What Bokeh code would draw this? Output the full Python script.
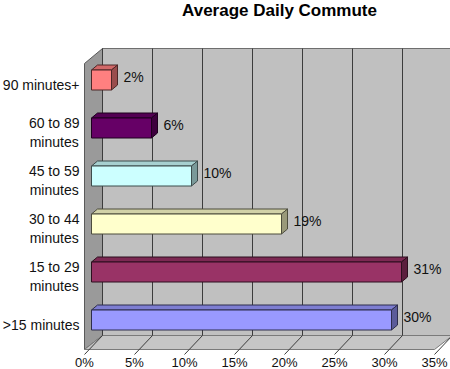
from bokeh.plotting import figure
from bokeh.models import Range1d
from bokeh.core.properties import value
from bokeh.embed import file_html
from bokeh.resources import INLINE

# ---------------- data ----------------
title_text = "Average Daily Commute"
categories = [">15 minutes", "15 to 29\nminutes", "30 to 44\nminutes",
              "45 to 59\nminutes", "60 to 89\nminutes", "90 minutes+"]
percent = [30, 31, 19, 10, 6, 2]
value_labels = ["30%", "31%", "19%", "10%", "6%", "2%"]
bar_colors = ["#9999FF", "#993366", "#FFFFCC", "#CCFFFF", "#660066", "#FF8080"]
x_ticks = [0, 5, 10, 15, 20, 25, 30, 35]
x_tick_labels = ["0%", "5%", "10%", "15%", "20%", "25%", "30%", "35%"]

FONT = "Liberation Sans"

# layout helpers: reference-pixel -> data units
def X(ref):
    return (ref - 84) / 10.0

def Y(ref):
    return (319.5 - ref) / 48.0

DEPTH_X = 1.8          # wall depth (x, in % units)
BAR_X0 = X(91)         # bars sit a little inside the 3-D box
BAR_HALF = 10 / 48.0
BAR_DX = 0.6
BAR_DY = 5 / 48.0

p = figure(width=450, height=369,
           x_range=Range1d(X(0), X(450)), y_range=Range1d(Y(369), Y(0)),
           output_backend="svg", toolbar_location=None, min_border=0,
           x_axis_location=None, y_axis_location=None,
           outline_line_color=None, background_fill_color="white")
p.xgrid.visible = False
p.ygrid.visible = False

x_min, x_max = x_ticks[0], x_ticks[-1]
floor_front, floor_back = Y(349), Y(335)
wall_top_back, wall_top_front = Y(48), Y(63)
tick_end = Y(354)

# back wall
p.patch([x_min + DEPTH_X, x_max + DEPTH_X, x_max + DEPTH_X, x_min + DEPTH_X],
        [floor_back, floor_back, wall_top_back, wall_top_back],
        fill_color="#c0c0c0", line_color="#6e6e6e", line_width=1)
# side wall
p.patch([x_min, x_min + DEPTH_X, x_min + DEPTH_X, x_min],
        [wall_top_front, wall_top_back, floor_back, floor_front],
        fill_color="#9a9a9a", line_color="#5a5a5a", line_width=1)
# floor
p.patch([x_min, x_max, x_max + DEPTH_X, x_min + DEPTH_X],
        [floor_front, floor_front, floor_back, floor_back],
        fill_color="#c6c6c6", line_color="#7a7a7a", line_width=1)

# gridlines on back wall + diagonals on floor (tick marks)
p.segment(x0=[t + DEPTH_X for t in x_ticks], y0=[floor_back] * len(x_ticks),
          x1=[t + DEPTH_X for t in x_ticks], y1=[wall_top_back] * len(x_ticks),
          line_color="#3c3c3c", line_width=1)
p.segment(x0=[t + DEPTH_X for t in x_ticks], y0=[floor_back] * len(x_ticks),
          x1=x_ticks, y1=[tick_end] * len(x_ticks),
          line_color="#3c3c3c", line_width=1)


def shade(hex_color, f):
    h = hex_color.lstrip("#")
    r, g, b = (int(h[k:k + 2], 16) for k in (0, 2, 4))
    return "#%02x%02x%02x" % (int(r * f), int(g * f), int(b * f))


ys = list(range(len(categories)))
lefts = [BAR_X0] * len(percent)
rights = [BAR_X0 + v for v in percent]

top_xs, top_ys, side_xs, side_ys = [], [], [], []
for i, (l, r) in enumerate(zip(lefts, rights)):
    t, b = ys[i] + BAR_HALF, ys[i] - BAR_HALF
    top_xs.append([l, r, r + BAR_DX, l + BAR_DX])
    top_ys.append([t, t, t + BAR_DY, t + BAR_DY])
    side_xs.append([r, r + BAR_DX, r + BAR_DX, r])
    side_ys.append([b, b + BAR_DY, t + BAR_DY, t])

outline = [shade(c, 0.3) for c in bar_colors]
p.patches(top_xs, top_ys, fill_color=[shade(c, 0.82) for c in bar_colors],
          line_color=outline, line_width=1)
p.patches(side_xs, side_ys, fill_color=[shade(c, 0.6) for c in bar_colors],
          line_color=outline, line_width=1)
p.quad(left=lefts, right=rights,
       bottom=[y - BAR_HALF for y in ys], top=[y + BAR_HALF for y in ys],
       fill_color=bar_colors, line_color=outline, line_width=1)

# value labels
p.text(x=[r + BAR_DX for r in rights], y=[y + 3 / 48.0 for y in ys],
       text=value_labels, x_offset=6, text_align="left", text_baseline="middle",
       text_font=value(FONT), text_font_size="14px", text_color="#111111")

# category labels
p.text(x=[X(79)] * len(categories), y=[y - 4.5 / 48.0 for y in ys],
       text=categories, anchor="center_right", text_align="center",
       text_baseline="middle", text_line_height=1.2,
       text_font=value(FONT), text_font_size="14px", text_color="#111111")

# x tick labels
p.text(x=x_ticks, y=[Y(362)] * len(x_ticks), text=x_tick_labels,
       text_align="center", text_baseline="middle",
       text_font=value(FONT), text_font_size="13px", text_color="#111111")

# title
p.text(x=[X(279)], y=[Y(9.5)], text=[title_text], text_align="center",
       text_baseline="middle", text_font=value(FONT), text_font_size="17px",
       text_font_style="bold", text_color="#000000")

open("out.html", "w").write(file_html(p, INLINE))
